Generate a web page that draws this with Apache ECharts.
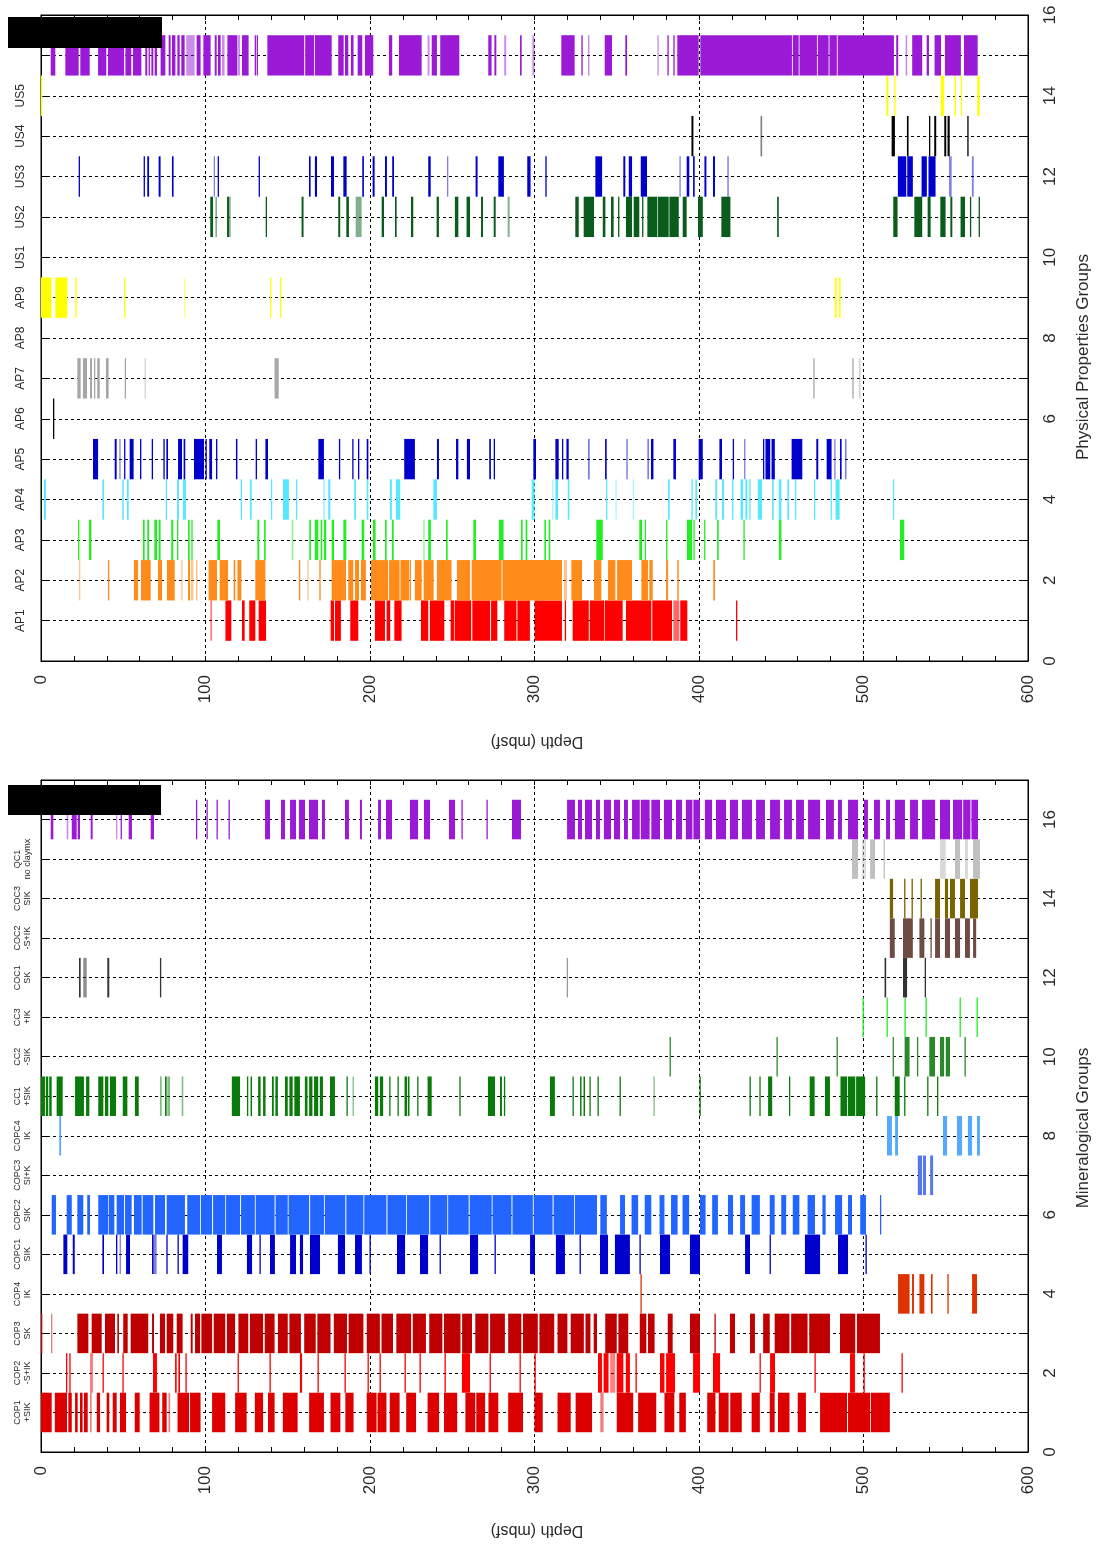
<!DOCTYPE html>
<html>
<head>
<meta charset="utf-8">
<script src="https://cdn.jsdelivr.net/npm/echarts@6/dist/echarts.min.js"></script>
<style>
html,body{margin:0;padding:0;background:#fff}
#chart{width:1102px;height:1549px}
</style>
</head>
<body>
<div id="chart"></div>
<script>
// Depth intervals (mbsf) per group: [top, base] or [top, base, opacity]
// ---------- Physical properties groups ----------
const AP1 = [[102.9,104,.5],[112.1,115.7],[122.2,123.8],[126.6,130.3],[132.3,136.8],[176.1,178.1],[178.7,182.3],[188,192.9],[203,209.1],[210.1,212.3],[214.8,219.2],[231,235.4],[236.4,245.2],[249,251.2],[251.6,261.5],[262.2,273],[273.6,277.4],[281.6,289],[289.6,297.2],[300.1,316.7],[318.4,319.2],[323.2,333],[333.6,342.3],[342.7,353.6],[355.6,371],[371.6,383.6],[384.4,388,.6],[388.6,392.9],[422.5,423.3]];
const AP2 = [[23.1,23.9,.5],[40.7,41.3],[56.5,59],[60.8,66.7],[71.1,73.6],[76.6,81.3],[85.3,86.1,.5],[89.4,90.6],[91.2,92.6,.5],[94.2,95.2,.5],[101.9,107],[108.6,113.7],[117.1,118.1],[119.4,121.8],[130.3,136.4],[156.8,157.6],[161.9,162.7,.5],[169.2,170],[176.7,185.4],[186.8,189.8],[190.9,193.3],[194.5,197.5],[200.6,211],[211.6,218],[218.5,223.7],[224.1,224.9],[227.3,231.4],[232.6,238.7],[240.7,249.6],[252.9,260.8],[261.8,280],[280.5,300.3],[300.3,316.7],[317.8,319.8,.5],[322.4,328.9],[336.2,340.6],[344.7,349.2],[350.2,359.3],[365,369],[369.8,371.9],[380,381.2],[386.8,387.7],[408.7,409.7]];
const AP3 = [[22.5,23.3],[29.2,30.6],[62,63],[64.6,65.7],[68.9,70.5],[71.5,72.7],[79.2,80.4],[82.7,83.3],[89.4,90.4],[91.4,92],[107.2,108.8],[131.5,132.7],[135.6,136.6],[152.4,153.4,.5],[163.1,164.1],[166.5,168.6],[170,171],[172,173.4],[176.7,178.1],[183.8,185.6],[194.9,196.5],[201.8,203.4],[209.1,210.1],[213.3,214.4],[232.4,233,.5],[235.4,237],[246.2,247.2],[262.8,264.4],[278.4,281.2],[291.8,292.8],[294.6,295.6],[306,307],[308.6,309.6],[337.6,341.5],[363.7,365.4],[367,367.8],[380,380.8],[392.7,395.8],[396.6,397.4],[403.1,403.9],[411,412],[427,427.8],[448.6,450.1],[522.2,524.8]];
const AP4 = [[1.8,3],[37.3,38.3],[49.4,50.3],[52.3,53.3],[75.8,76.6],[82.7,83.9],[86.3,88.1],[121.4,122.2],[127,128.1],[139.8,140.4],[147.1,150.7],[155,155.6],[171.6,172.6,.5],[174.6,175.9],[190.4,191.5],[198,199],[212.1,213.3],[215.8,218.4],[238.5,240.7],[298.3,300],[310.7,311.5,.5],[312.7,314.3],[320.2,321.2],[343.5,344.3],[349.2,349.8,.5],[359.7,360.3,.5],[381.2,382.2],[395.4,396.2],[397.8,398.8],[409.9,411],[414,415.2],[420.1,420.9],[425.3,426.8],[428.2,429.4],[430.6,431.4],[435.7,438.3],[444.4,445.4],[448.5,450.1],[453.7,454.7],[458.3,459.1],[469.9,470.5],[480,480.6],[483,485.5],[517.9,518.5]];
const AP5 = [[31.6,34.7],[44.8,46],[47.6,48.2,.5],[50.5,51],[53.9,56.3],[60.2,61],[67.3,68.1],[74.4,75.2],[76.2,77.2],[83.3,85.7],[86.7,87.7],[93,99.1],[100,100.5],[102.3,104],[106.4,107.2],[118.5,119.4],[130.5,131.3],[136.4,138],[168.6,172],[181.1,181.9],[189.2,190],[192.7,193.5],[198,199],[220.8,227.3],[240.7,241.9],[252.3,253.7],[258.9,260.8],[272.5,273.5],[275.2,276],[299.3,300.9],[312.7,314.7],[316.7,317.5],[319.4,320.8],[332.5,333.6,.5],[342.9,343.9],[355.8,356.7,.5],[368.6,369.6,.5],[370.8,372.3],[384.4,386],[399.8,402.3],[412.4,414],[420.5,421.3],[427.4,428.2,.5],[438.9,439.7],[440.4,443.3],[444.1,446.1],[456.3,462.8],[471.3,472.5],[477.6,480.6],[482.2,483,.5],[485.7,486.7],[488.7,489.7,.5]];
const AP6 = [[7.3,7.9]];
const AP7 = [[22.1,24.1],[25.5,28],[29.8,31],[32.2,33],[34.2,35.7],[39.5,41.1],[50.9,51.5],[63,63.6,.5],[142,144.5],[469.5,469.9],[493.2,493.6],[497.2,498.2,.5]];
const AP8 = [];
const AP9 = [[0,6.3],[8.7,16],[20.9,21.7],[50.5,51.3],[86.9,87.7,.5],[139.2,139.8],[145.3,145.9],[482.6,483.7],[485.1,486.1]];
const US1 = [];
const US2 = [[102.9,104.6],[106,107,.5],[113.1,114.3],[114.3,115.3,.5],[136.6,137.4],[158.4,159.6],[180.7,181.9],[185.6,187.2],[191.3,194.9,.5],[207.1,208.5],[215.2,216.2],[224.9,226.3],[240.5,241.9],[251.6,253.7],[258.7,260.8],[267.5,268.7],[275.2,276.4],[283.7,284.9,.5],[324.8,326.9],[329.9,336.2],[341.5,343.1],[346.5,348.1],[350.8,351.6],[355.6,359.3],[360.3,363.7],[365.4,366.2],[368.6,374.7],[375.1,381.6],[382,387.7],[390.1,392.5],[399.4,402.3],[413.6,419.1],[447.5,448.5],[518.1,520.7],[530.9,535.7],[539,540.8],[546.7,549.9],[552.8,554],[559,561.7],[564.7,565.3],[570,570.8]];
const US3 = [[22.9,23.5],[62.4,63],[64.6,65.7],[71.5,72.7],[79.6,80.6],[105,105.6,.5],[107.4,108],[132.3,132.9],[162.9,163.9],[166.5,167.8],[176.3,178.1],[183.8,185.8],[195.3,196.3],[201.6,202.8],[209.1,210.3],[213.5,214.6],[235.4,236.9],[246.8,247.6,.5],[264.2,265.4],[278,281.4],[295.6,297.6],[306.6,307.4],[337,341.1],[354,355.2],[357.3,359.3],[364.6,368.4],[388.1,388.9,.5],[392.5,394.1],[396.4,397.4],[403.3,404.5],[408.5,409.7],[417.2,418.1,.5],[520.9,526],[526.6,530],[535.3,538.5],[539.5,543.8],[552,553.6,.5],[565.9,567,.5]];
const US4 = [[395.4,396.6],[437.4,438.4,.5],[517.1,519.1],[526.4,527.4],[539.8,540.6],[543,544.2],[549.1,550.3],[551.1,552.4],[563.1,563.7]];
const US5 = [[0,0.4],[513.9,515.1],[518.7,519.5],[546.9,548.9],[555.4,556.2],[559.2,560],[569.2,570.6]];
const PP15 = [[5.9,8.7],[14.8,22.9],[23.9,29.6],[34.7,39.7],[40.7,50.5],[51.3,54.9],[55.9,61],[63.4,64.6],[65.4,66.2],[67.1,68.3],[69.1,70.5],[72.7,75.6],[77.6,78.8],[79.6,81.7],[82.9,84.3],[85.3,87.3],[88.3,93.4,.5],[94.6,97],[98.7,103.1],[105.6,106.8],[107.6,109.2],[110,111.6,.5],[113.3,119.4],[119.8,121,.5],[122.2,126.2],[129.9,130.5],[131.1,131.9],[137.6,160],[160.6,166],[166.5,176.7],[180.7,184],[184.8,186.8],[188.4,190],[192.5,195.3],[196.9,202],[211.5,213.5],[217.6,231.4],[235,236.2,.5],[237.5,240.7],[242.7,254.3],[271.9,273.9],[275.6,276.8],[281.6,282.8,.5],[291.2,292.2],[298.7,299.9,.5],[316.3,324.4],[328.5,329.3],[332.5,333.4,.5],[342.7,347.1],[355.2,356.3],[374.7,375.5,.5],[380.8,381.6],[384.4,385.2],[386.8,399.8],[400.8,456.5],[457,460.6],[461.1,471.7],[472.2,478.8],[479.3,483.8],[484.3,518.5],[519.9,521.1],[525.6,526.6,.5],[529.6,535.7],[538.4,539.8],[543.2,547.1],[549.5,559.2],[561.1,569.4]];

// ---------- Mineralogical groups ----------
const COP1 = [[0,6.5],[8.4,15.8],[16.6,18.7],[20.7,22.3],[23.7,25.3],[26.1,28.4],[29.8,30.8,.5],[33.9,35.9],[39.9,41.5],[43.6,46],[48,51.7],[57,60],[66,72],[73.7,76.4],[77.5,78.5,.5],[83,90],[90.6,97],[104,112],[118,125],[130,135],[138,142],[147,156],[163,172],[176,182],[185,190],[198,204],[204.6,210],[212,218],[222,228],[235,242],[245,253],[258,264],[264.6,270],[272,278],[284,293],[300,305],[314,322],[325,335],[340,342,.5],[350,360],[363,374],[379,385],[388,392],[405,410],[412,418],[419,426],[432,437],[443,446],[448,455],[460,465],[473.6,490],[490.6,504],[504.5,516]];
const COP2 = [[15.2,16],[17.2,18],[29.8,31.6,.5],[37.4,38],[49.5,50.1],[68.1,70.5],[81.5,82.5],[83.5,84.5],[87.8,88.4],[119.5,120.1],[138.9,139.5],[157.4,158.7],[168.1,168.7],[184.5,185.1],[198.5,199.1],[205.8,206.4],[221,221.6],[230.1,230.7],[245.3,245.9],[255.9,260.8],[272.7,273.3],[290.9,291.5],[300,300.6],[338.6,341],[342,345],[346,349,.5],[350,354],[355.5,358],[361.4,362],[376.3,379],[380,385.4],[396.4,400.6],[408.5,412.8],[436.8,437.4],[443.2,446.2],[470.2,470.8],[491.8,494.8],[500,500.6],[523.1,523.7]];
const COP3 = [[0,0.6],[6.1,6.9,.5],[22.1,28.8],[30.8,36.9],[38.9,45],[46.4,47.4],[50,52.7],[54.5,65.2],[67.5,68.7],[72.3,75.4],[76.4,80.4],[82.5,86.1],[91,92.2],[93.6,96.7],[97.5,104],[105,112],[113,118],[120,126],[127,135],[136,142],[144,150],[151,158],[160,167],[168,176],[178,186],[187,196],[198,206],[207,214],[216,225],[226,234],[236,244],[245,255],[256,262],[264,272],[273,282],[284,292],[293,302],[303,312],[314,320],[322,330],[331,334],[336,338],[343,350],[351,357],[364,368],[369,373],[381,384],[394.5,400.6],[409.4,410],[418.8,421.9],[431,434],[439,443],[446,455],[456,466],[467,479.6],[485.7,495],[496,510]];
const COP4 = [[364.4,365],[521,528],[529.5,530.7],[534,537],[541,542],[551,551.6],[566,569]];
const COPC1 = [[13.6,16],[19.3,20.5],[37.3,38.3],[45.6,46.4],[47.8,48.4,.5],[51.7,54.1],[67.5,68.5],[68.7,70.3,.5],[76.2,76.8],[83,83.6],[86.1,89.5],[107,110],[125.2,128.3],[132.8,133.4],[139.2,142.2],[151.4,155],[157.4,159.3],[163.5,169.6],[180.5,184.8],[190.9,195.1],[199.7,200.3],[216.4,221.3],[230.4,235.3],[242.3,242.9],[260.8,265.7],[275.7,276.3],[297.3,300.3],[313,318.5],[327.4,328],[339.8,344.7],[348.9,358],[363.8,364.4],[376.3,382.4],[394.5,400.6],[428,431],[442.9,443.5],[464.4,473.6],[484.5,490.6],[501.2,501.8]];
const COPC2 = [[6.5,9.1],[15.6,18.7],[22.1,25.7],[28.1,29.8],[34.8,40.9],[41.3,44.6],[46,50.5],[51.1,55.1],[56.5,61.2],[61.8,68.3],[69.3,75.4],[76.4,87.5],[88.9,96.7],[97.2,104],[104.6,112],[112.5,121],[121.6,130],[130.5,142],[142.6,150],[150.5,163],[163.6,172],[172.5,185],[185.6,196],[196.5,210],[210.6,222],[222.5,236],[236.6,247],[247.5,260],[260.6,274],[274.5,286],[286.6,299],[299.5,311],[311.6,324],[324.5,338],[340,344],[352,355],[359,363],[367,371],[376,379],[383,387],[390,394],[400.6,404],[408,411.5],[417.6,420.7],[425,428],[432,437],[443,446],[450,453],[457,461],[466,470.5],[475,477],[482.7,487],[490.6,493],[498,501.5],[510,510.6]];
const COPC3 = [[533,535.6],[536.2,538],[540.5,542.3]];
const COPC4 = [[11.1,12.2],[514.3,517.3],[519.2,521],[548.3,550.8],[556.8,559.9],[563.5,566],[569,570.8]];
const CC1 = [[0,2.4],[2.9,4.4],[5,6.5],[9.5,13.2],[20.7,26.1],[27.4,29.4],[34.8,37.9],[38.9,40.9],[41.9,45.6],[49.7,52.5],[57.1,59.4],[72.3,73.4,.5],[75.4,76.4],[76.8,78.4,.5],[85.5,86.5,.5],[116,121],[125.2,126],[127.4,128.3],[132,133.5],[135,136.5],[140.4,141.5],[142.5,144],[148.3,150],[151,153],[154,157.4],[160.4,162],[163,165],[166,168.5],[169.5,171.4],[175.7,178.7],[185.7,186.3],[189.4,190,.5],[203,205],[206,208],[211.7,212.3],[216.7,217.3],[221,222.5],[223,224],[228.7,229.3],[235,237.5],[254.3,254.9],[271.7,276],[279,280.2],[281.4,282],[309.4,312.4],[323.1,323.7],[327.7,328.6],[329.8,330.7],[333.4,334],[338.3,338.9],[351.7,352.3],[372.3,372.9,.5],[400.3,400.9],[430.7,431.3],[436.7,437.3],[442,444.5],[454.7,455.3],[467.3,470.3],[476.6,479.6],[486,490],[490.5,495],[495.5,501],[507.7,508.3],[519,522],[524.7,525.3],[538.7,539.3],[544.7,545.3]];
const CC2 = [[382.1,382.7],[447.1,447.7],[483.6,484.2],[517.7,518.3],[525,528],[532.5,533.1],[540,543.5],[546.5,549],[550,552.6],[561.4,562]];
const CC3 = [[499.4,500],[514,514.6],[524.9,525.5],[537.7,538.3],[558.4,559],[568.7,569.3]];
const COC1 = [[23.1,24.1],[25.7,27.8,.55],[40.3,41.5],[72.3,72.9],[319.6,320.2,.5],[512.8,513.8],[524,526.5],[537.2,538]];
const COC2 = [[516,519],[524,530],[534,537],[540.7,541.3],[543.5,546.5],[549.5,552.6],[555.6,558.7],[561.7,564.7],[566.6,568.5]];
const COC3 = [[516,518],[524.7,525.5],[529.2,530],[534.7,535.5],[543.5,546.5],[549.5,551.4],[552.6,555.6],[558.7,561.7],[564.7,569.6]];
const QC1 = [[493,496.7],[499,501.5,.5],[504,507],[512.2,513],[546.5,550,.6],[555.6,558.7],[561.7,563.5,.6],[566.6,570.8]];
const MG16 = [[5.9,7.5],[15.6,16.6,.5],[18.7,21.7],[22.3,23.7],[30.2,31.4],[45.6,46.4,.5],[48.4,49.2],[53.3,55.3],[66.7,68.7],[94.2,95],[100.6,101.2],[106.7,107.3],[114,114.6],[136.2,139.2],[145.9,148.3],[151.4,155],[156.8,160.5],[162.9,168.4],[170.8,172.6],[184.8,187.2],[193.9,195.1],[204.9,206.7],[209.7,213.4],[224.3,229.2],[232.8,236.5],[248,251.7],[255.6,256.2],[270.8,271.4],[286.3,291.8],[319.8,324.6],[326.4,328.9],[330.7,335],[337.4,339.8],[342.2,346.5],[348.3,352],[354.4,356.8],[359.3,364],[364.6,370],[371,376.3],[378.7,383.6],[386,389.7],[392,396],[396.6,400.6],[403.6,407.9],[410.3,416.4],[418.8,423.7],[426.1,432.2],[434.7,440.1],[443.2,449.2],[451.7,456.5],[459,463.8],[466.3,473.6],[477.2,482],[484.5,486.9],[490.6,496.7],[500.3,502.7],[506.4,510],[513.7,516.1],[519.1,525.2],[528.3,533.1],[535.6,543.5],[546.5,552.6],[554.4,560],[560.6,565],[565.6,569.6]];

// Axis categories
const depthRange = [0, 600];
const ppLabels = ['', 'AP1','AP2','AP3','AP4','AP5','AP6','AP7','AP8','AP9','US1','US2','US3','US4','US5','',''];
const mgLabels = ['', 'COP1\n+SIK','COP2\n-S+IK','COP3\nSK','COP4\nIK','COPC1\nSIK','COPC2\nSIK','COPC3\nSI+K','COPC4\nIK','CC1\n+SIK','CC2\n-SIK','CC3\n+IK','COC1\nSK','COC2\n-S+IK','COC3\nSIK','QC1\nno claymx','',''];

const ppGroups = [
  [AP1,'#ff0000'],[AP2,'#ff8c1a'],[AP3,'#22ee22'],[AP4,'#55e8ff'],[AP5,'#0000cc'],
  [AP6,'#000000'],[AP7,'#a6a6a6'],[AP8,'#888888'],[AP9,'#ffff00'],[US1,'#888888'],
  [US2,'#0a5c1c'],[US3,'#0000cc'],[US4,'#000000'],[US5,'#ffff00'],[PP15,'#9a1ad6']
];
const mgGroups = [
  [COP1,'#dd0000'],[COP2,'#ff0000'],[COP3,'#c00000'],[COP4,'#dd3300'],[COPC1,'#0000cc'],
  [COPC2,'#2266ff'],[COPC3,'#5577ee'],[COPC4,'#55aaff'],[CC1,'#0a7a0a'],[CC2,'#2a8a2a'],
  [CC3,'#22ee22'],[COC1,'#333333'],[COC2,'#6e4c44'],[COC3,'#7a6400'],[QC1,'#c0c0c0'],[MG16,'#9a1ad6']
];

const FONT = 'Liberation Sans, Arial, sans-serif';
const TXT = '#2a2a2a';

// One rectangle per depth interval, one unit tall, centred on the group row
function renderInterval(params, api) {
  const a = api.coord([api.value(0), api.value(2) - 0.5]);
  const b = api.coord([api.value(1), api.value(2) + 0.5]);
  const w = Math.max(b[0] - a[0], 1.3);
  return {
    type: 'rect',
    shape: { x: a[0], y: b[1], width: w, height: a[1] - b[1] },
    style: { fill: api.visual('color'), opacity: api.value(3) }
  };
}

function makeSeries(groups, g) {
  return groups.map(([iv, color], i) => ({
    type: 'custom',
    xAxisIndex: 2 * g,
    yAxisIndex: 2 * g,
    renderItem: renderInterval,
    itemStyle: { color },
    silent: true,
    animation: false,
    clip: true,
    encode: { x: [0, 1], y: 2 },
    data: iv.map(d => [d[0], d[1], i + 1, d[2] == null ? 1 : d[2]])
  }));
}

function xAxes(g) {
  return [{
    gridIndex: g, type: 'value', min: depthRange[0], max: depthRange[1], interval: 100, position: 'bottom',
    axisLine: { show: true, onZero: false, lineStyle: { color: '#000', width: 1 } },
    axisTick: { show: true, inside: true, length: 5, lineStyle: { color: '#000' } },
    minorTick: { show: true, splitNumber: 5, length: 5, lineStyle: { color: '#000' } },
    axisLabel: { rotate: 90, margin: 14, fontSize: 17, color: TXT, fontFamily: FONT },
    splitLine: { show: true, lineStyle: { type: [3, 3], color: '#000', width: 1 } }
  }, {
    gridIndex: g, type: 'value', min: depthRange[0], max: depthRange[1], interval: 100, position: 'top',
    axisLine: { show: true, onZero: false, lineStyle: { color: '#000', width: 1 } },
    axisTick: { show: true, inside: true, length: 5, lineStyle: { color: '#000' } },
    minorTick: { show: true, splitNumber: 5, length: 5, lineStyle: { color: '#000' } },
    axisLabel: { show: false }, splitLine: { show: false }
  }];
}

function yAxes(g, maxV, labels, labelSize, labelMargin) {
  return [{
    gridIndex: g, type: 'value', min: 0, max: maxV, interval: 1, position: 'left',
    axisLine: { show: true, onZero: false, lineStyle: { color: '#000', width: 1 } },
    axisTick: { show: true, inside: true, length: 6, lineStyle: { color: '#000' } },
    axisLabel: { rotate: 90, margin: labelMargin, fontSize: labelSize, lineHeight: labelSize + 1, color: TXT, fontFamily: FONT,
      formatter: v => labels[v] || '' },
    splitLine: { show: true, lineStyle: { type: [3, 3], color: '#000', width: 1 } }
  }, {
    gridIndex: g, type: 'value', min: 0, max: maxV, interval: 1, position: 'right',
    axisLine: { show: true, onZero: false, lineStyle: { color: '#000', width: 1 } },
    axisTick: { show: true, inside: true, length: 6, lineStyle: { color: '#000' } },
    axisLabel: { rotate: 90, margin: 14, fontSize: 17, color: TXT, fontFamily: FONT,
      formatter: v => (v % 2 === 0 && v <= 16 ? String(v) : '') },
    splitLine: { show: false }
  }];
}

const chart = echarts.init(document.getElementById('chart'), null, { renderer: 'canvas' });
chart.setOption({
  backgroundColor: '#fff',
  animation: false,
  grid: [
    { left: 41, right: 74, top: 15, height: 646, show: true, borderColor: '#000', borderWidth: 1, backgroundColor: 'transparent' },
    { left: 41, right: 74, top: 780, height: 672, show: true, borderColor: '#000', borderWidth: 1, backgroundColor: 'transparent' }
  ],
  xAxis: [...xAxes(0), ...xAxes(1)],
  yAxis: [...yAxes(0, 16, ppLabels, 12, 14), ...yAxes(1, 17, mgLabels, 9, 8)],
  series: [...makeSeries(ppGroups, 0), ...makeSeries(mgGroups, 1)],
  graphic: [
    { type: 'rect', shape: { x: 8, y: 17, width: 154, height: 31 }, style: { fill: '#000' }, z: 100 },
    { type: 'rect', shape: { x: 8, y: 785, width: 153, height: 30 }, style: { fill: '#000' }, z: 100 },
    { type: 'text', x: 537, y: 741, rotation: Math.PI, style: { text: 'Depth (mbsf)', font: '16px ' + FONT, fill: TXT, textAlign: 'center', textVerticalAlign: 'middle' } },
    { type: 'text', x: 537, y: 1530, rotation: Math.PI, style: { text: 'Depth (mbsf)', font: '16px ' + FONT, fill: TXT, textAlign: 'center', textVerticalAlign: 'middle' } },
    { type: 'text', x: 1083, y: 357, rotation: Math.PI / 2, style: { text: 'Physical Properties Groups', font: '17px ' + FONT, fill: TXT, textAlign: 'center', textVerticalAlign: 'middle' } },
    { type: 'text', x: 1083, y: 1128, rotation: Math.PI / 2, style: { text: 'Mineralogical Groups', font: '17px ' + FONT, fill: TXT, textAlign: 'center', textVerticalAlign: 'middle' } }
  ]
});
</script>
</body>
</html>
